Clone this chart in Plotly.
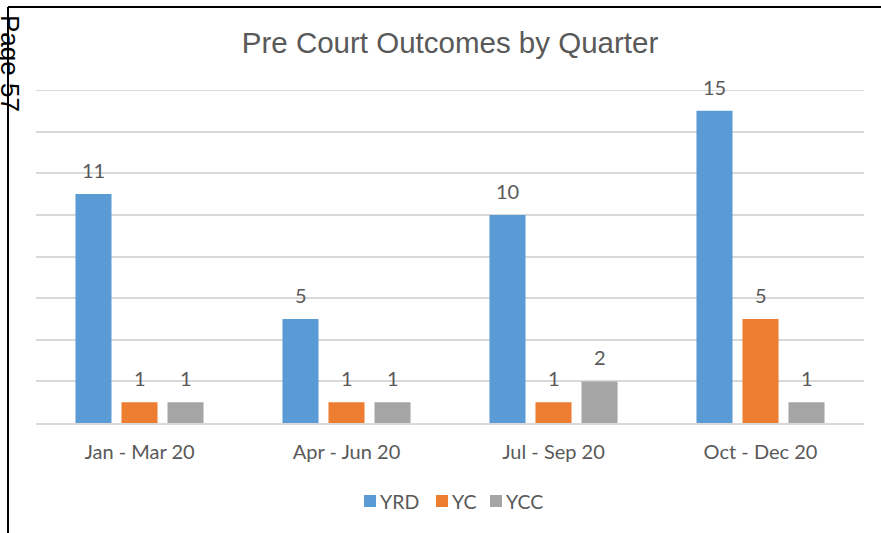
import plotly.graph_objects as go

categories = ["Jan - Mar 20", "Apr - Jun 20", "Jul - Sep 20", "Oct - Dec 20"]
yrd = [11, 5, 10, 15]
yc = [1, 1, 1, 5]
ycc = [1, 1, 2, 1]
series_names = ["YRD", "YC", "YCC"]
series_values = [yrd, yc, ycc]
colors = ["#5B9BD5", "#ED7D31", "#A5A5A5"]

W, H = 881, 533
L, R, T, B = 36, 17, 90, 110
pw = W - L - R
ph = H - T - B
FONT = "Lato, Open Sans, sans-serif"

fig = go.Figure()
for name, vals, col in zip(series_names, series_values, colors):
    fig.add_trace(go.Bar(name=name, x=categories, y=vals, marker_color=col,
                         marker_line_width=0, showlegend=False))

# data labels as annotations
offsets = [-46, 0, 46]
for vals, off in zip(series_values, offsets):
    for c, v in zip(categories, vals):
        fig.add_annotation(x=c, y=v, text=str(v), showarrow=False,
                           xshift=off, yshift=10, yanchor="bottom",
                           font=dict(family=FONT, size=20, color="#595959"))

def px_x(p):
    return (p - L) / pw

def px_y(p):
    return (H - B - p) / ph

# frame lines
fig.add_shape(type="line", xref="paper", yref="paper", x0=px_x(8), x1=px_x(8), y0=px_y(7), y1=px_y(H + 5),
              line=dict(color="black", width=2))
fig.add_shape(type="line", xref="paper", yref="paper", x0=px_x(8), x1=px_x(W + 5), y0=px_y(7), y1=px_y(7),
              line=dict(color="black", width=2))
# top gridline (value 16)
fig.add_shape(type="line", xref="paper", yref="y", x0=0, x1=1, y0=16, y1=16,
              line=dict(color="#D9D9D9", width=2), layer="below")

fig.add_annotation(xref="paper", yref="paper", x=px_x(10), y=px_y(63), text="Page 57", showarrow=False,
                   textangle=90, xanchor="center", yanchor="middle",
                   font=dict(family="Liberation Sans, Arial, sans-serif", size=26, color="black"))

# custom legend (compact, like the reference)
legend_sq_x = [364, 436, 490]
legend_cy = 501
for name, col, sx in zip(series_names, colors, legend_sq_x):
    fig.add_shape(type="rect", xref="paper", yref="paper",
                  x0=px_x(sx), x1=px_x(sx + 12), y0=px_y(legend_cy + 6), y1=px_y(legend_cy - 6),
                  fillcolor=col, line=dict(width=0))
    fig.add_annotation(xref="paper", yref="paper", x=px_x(sx + 14), y=px_y(legend_cy), text=name,
                       showarrow=False, xanchor="left", yanchor="middle",
                       font=dict(family=FONT, size=19.5, color="#595959"))

fig.update_layout(
    width=W, height=H,
    margin=dict(l=L, r=R, t=T, b=B),
    paper_bgcolor="white", plot_bgcolor="white",
    barmode="group", bargap=0.333, bargroupgap=0.217,
    title=dict(text="Pre Court Outcomes by Quarter", x=0.5, xref="paper", xanchor="center",
               y=1 - 43 / H, yref="container", yanchor="middle",
               font=dict(family="Liberation Sans, Arial, sans-serif", size=29.5, color="#595959")),
    showlegend=False,
    xaxis=dict(showgrid=False, showline=True, linecolor="#D9D9D9", linewidth=2,
               ticks="outside", ticklen=10, tickcolor="rgba(0,0,0,0)",
               tickfont=dict(family=FONT, size=20, color="#595959")),
    yaxis=dict(range=[0, 16], dtick=2, showgrid=True, gridcolor="#D9D9D9", gridwidth=2,
               showticklabels=False, zeroline=False, showline=False),
)

fig.write_html("out.html", post_script="document.body.style.margin='0';",
               config={"displayModeBar": False})
